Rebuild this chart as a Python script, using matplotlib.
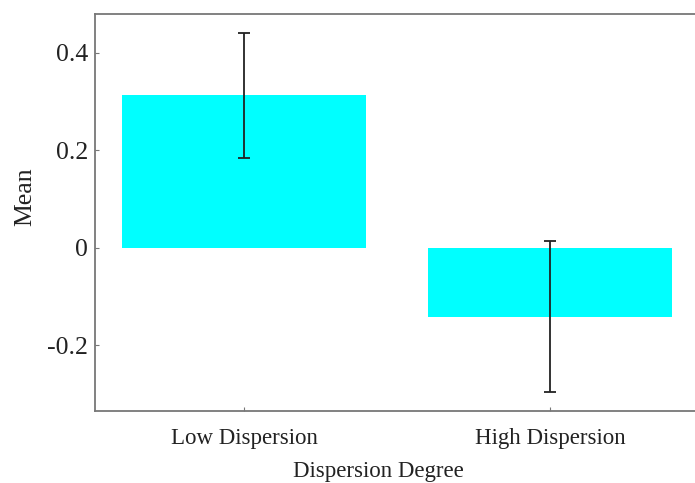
import matplotlib
matplotlib.use('Agg')
import matplotlib.pyplot as plt

categories = ['Low Dispersion', 'High Dispersion']
means = [0.312, -0.142]
errors = [0.129, 0.155]
yticks = [-0.2, 0, 0.2, 0.4]
ytick_labels = ['-0.2', '0', '0.2', '0.4']

plt.rcParams['font.family'] = ['Liberation Serif', 'DejaVu Serif']

fig = plt.figure(figsize=(6.95, 4.83), dpi=100)
ax = fig.add_axes([95 / 695, 1 - 411 / 483, 604 / 695, 397 / 483])

x = list(range(len(categories)))
ax.bar(x, means, width=0.8, color='#00ffff', zorder=1)
ax.errorbar(x, means, yerr=errors, fmt='none', ecolor='#222222',
            elinewidth=1.3, capsize=4, capthick=1.3, zorder=2)

ax.set_xlim(-0.487, 1.487)
ax.set_ylim(-0.335, 0.479)
ax.set_xticks(x)
ax.set_xticklabels(categories)
ax.set_yticks(yticks)
ax.set_yticklabels(ytick_labels)

for s in ax.spines.values():
    s.set_color('#777777')
    s.set_linewidth(1.3)
ax.tick_params(direction='in', length=3, color='#777777', labelcolor='#222222')
ax.tick_params(axis='y', labelsize=18.5, pad=5)
ax.tick_params(axis='x', pad=12, labelsize=16.5)

ax.set_ylabel('Mean', fontsize=18.5, color='#222222')
ax.set_xlabel('Dispersion Degree', fontsize=16.5, color='#222222')
ax.yaxis.set_label_coords(-0.097, 0.539)
ax.xaxis.set_label_coords(0.469, -0.125)

fig.savefig('out.png', dpi=100)
